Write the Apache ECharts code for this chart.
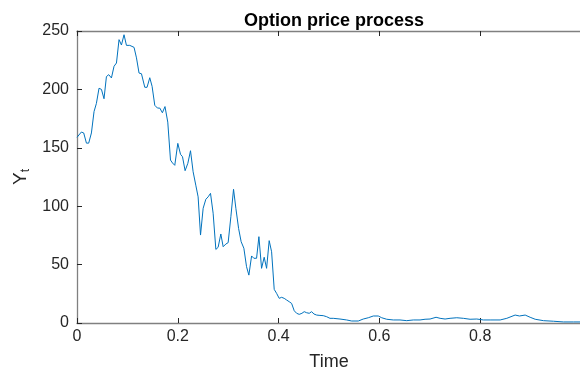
<!DOCTYPE html>
<html>
<head>
<meta charset="utf-8">
<script src="https://cdn.jsdelivr.net/npm/echarts@6/dist/echarts.min.js"></script>
<style>html,body{margin:0;padding:0;background:#fff;}#c{width:580px;height:372px;}</style>
</head>
<body>
<div id="c"></div>
<script>
var times = [0,0.002,0.0087,0.0133,0.0187,0.0232,0.0286,0.0338,0.0385,0.0437,0.0485,0.0536,0.0584,0.063,0.0683,0.0735,0.0783,0.0834,0.0882,0.0933,0.0981,0.1047,0.1132,0.118,0.1231,0.1279,0.1345,0.139,0.1444,0.149,0.1543,0.1597,0.1643,0.1694,0.1746,0.1801,0.1855,0.1895,0.194,0.2,0.2054,0.2093,0.2145,0.2199,0.2252,0.2304,0.2357,0.2403,0.2451,0.2503,0.2556,0.2602,0.2649,0.2701,0.2755,0.28,0.2854,0.29,0.2953,0.2999,0.3053,0.3106,0.3152,0.3206,0.3257,0.3311,0.3364,0.341,0.3464,0.3509,0.3563,0.3609,0.3662,0.3714,0.3762,0.3813,0.3861,0.3913,0.396,0.4012,0.406,0.4111,0.4159,0.4211,0.4258,0.431,0.4358,0.4409,0.4463,0.4508,0.4556,0.4608,0.4655,0.4701,0.4755,0.482,0.4886,0.4953,0.5019,0.5084,0.5218,0.535,0.545,0.5581,0.568,0.578,0.5879,0.5978,0.6046,0.6145,0.6276,0.6409,0.6542,0.6673,0.6806,0.6906,0.7005,0.7124,0.7204,0.7303,0.7402,0.7535,0.7666,0.7799,0.7933,0.8064,0.8197,0.8396,0.8528,0.8693,0.8779,0.8892,0.8991,0.9091,0.9255,0.9454,0.9653,0.9851,1.0];
var prices = [159,160.7,163.5,162.7,154,154,162.7,181,188,201,200,192,211,212.6,209.8,219.8,222.6,242.6,238,246.8,237.7,237.7,236,227,214,213.4,201.8,201.8,210,202.6,186.4,184,184,180,185.3,172,139.5,137,135,153.8,144.4,142.4,130.4,136.7,147.5,129.5,118,108,75.3,98.2,105.9,108,111,94,63,64.8,76.2,65.3,67.6,68.8,91,114.5,98.2,81,69.6,64,48.2,41,57.4,55.4,55.4,73.9,46.8,56.3,46.8,70.5,61,28.8,25.4,21.1,22,21.1,19.7,18.2,16.8,10.5,8.3,7.4,8.3,9.7,8.8,8.3,9.7,7.7,6.8,6.5,6.3,5.4,4,4,3.4,2.6,1.7,1.7,3.4,4.5,6,6,4.5,3.2,2.6,2.6,2,2.6,2.6,3.2,3.4,4.9,4,3.4,4,4.5,4,3.2,3.4,2.6,2.6,2.6,4,6.8,6,6.8,4.9,3.2,2,1.5,0.9,0.9,0.9];
var xTicks = [0, 0.2, 0.4, 0.6, 0.8];
var yTicks = [0, 50, 100, 150, 200, 250];
var titleText = 'Option price process';
var xName = 'Time';

var data = times.map(function (t, i) { return [t, prices[i]]; });
var axisCol = '#808080';
var txtCol = '#262626';
var font = 'Liberation Sans';

var chart = echarts.init(document.getElementById('c'), null, {renderer: 'canvas'});
chart.setOption({
  animation: false,
  backgroundColor: '#ffffff',
  title: {
    text: titleText,
    left: 329, top: 7, textAlign: 'center',
    textStyle: {fontFamily: font, fontSize: 18, fontWeight: 'bold', color: '#000'}
  },
  grid: {left: 77, top: 31, width: 504, bottom: 49, containLabel: false, outerBoundsMode: 'none'},
  xAxis: [{
    type: 'value', min: 0, max: 1, interval: 0.2, position: 'bottom',
    name: xName, nameLocation: 'middle', nameGap: 30,
    nameTextStyle: {fontFamily: font, fontSize: 18, color: txtCol},
    axisLine: {show: true, onZero: false, lineStyle: {color: axisCol, width: 1.3}},
    axisTick: {show: true, inside: true, length: 5, lineStyle: {color: '#262626', width: 1}},
    axisLabel: {showMaxLabel: false, margin: 6, fontFamily: font, fontSize: 16, color: txtCol,
      formatter: function (v) { return xTicks.indexOf(Math.round(v * 10) / 10) >= 0 ? String(Math.round(v * 10) / 10) : ''; }},
    splitLine: {show: false}
  }, {
    type: 'value', min: 0, max: 1, interval: 0.2, position: 'top',
    axisLine: {show: true, onZero: false, lineStyle: {color: axisCol, width: 1.3}},
    axisTick: {show: true, inside: true, length: 5, lineStyle: {color: '#262626', width: 1}},
    axisLabel: {show: false},
    splitLine: {show: false}
  }],
  yAxis: [{
    type: 'value', min: 0, max: 250, interval: 50,
    name: '{y|Y}{t|t}', nameLocation: 'middle', nameGap: 44, nameRotate: 90,
    nameTextStyle: {
      fontFamily: font, color: txtCol,
      rich: {
        y: {fontFamily: font, fontSize: 19, color: txtCol},
        t: {fontFamily: font, fontSize: 12, color: txtCol, verticalAlign: 'bottom', padding: [9, 0, 0, 0]}
      }
    },
    axisLine: {show: true, onZero: false, lineStyle: {color: axisCol, width: 1.3}},
    axisTick: {show: true, inside: true, length: 5, lineStyle: {color: '#262626', width: 1}},
    axisLabel: {margin: 8, fontFamily: font, fontSize: 16, color: txtCol,
      formatter: function (v) { return yTicks.indexOf(v) >= 0 ? String(v) : ''; }},
    splitLine: {show: false}
  }],
  series: [{
    type: 'line', data: data, showSymbol: false, smooth: false,
    lineStyle: {color: '#0072BD', width: 1},
    clip: true
  }]
});
</script>
</body>
</html>
